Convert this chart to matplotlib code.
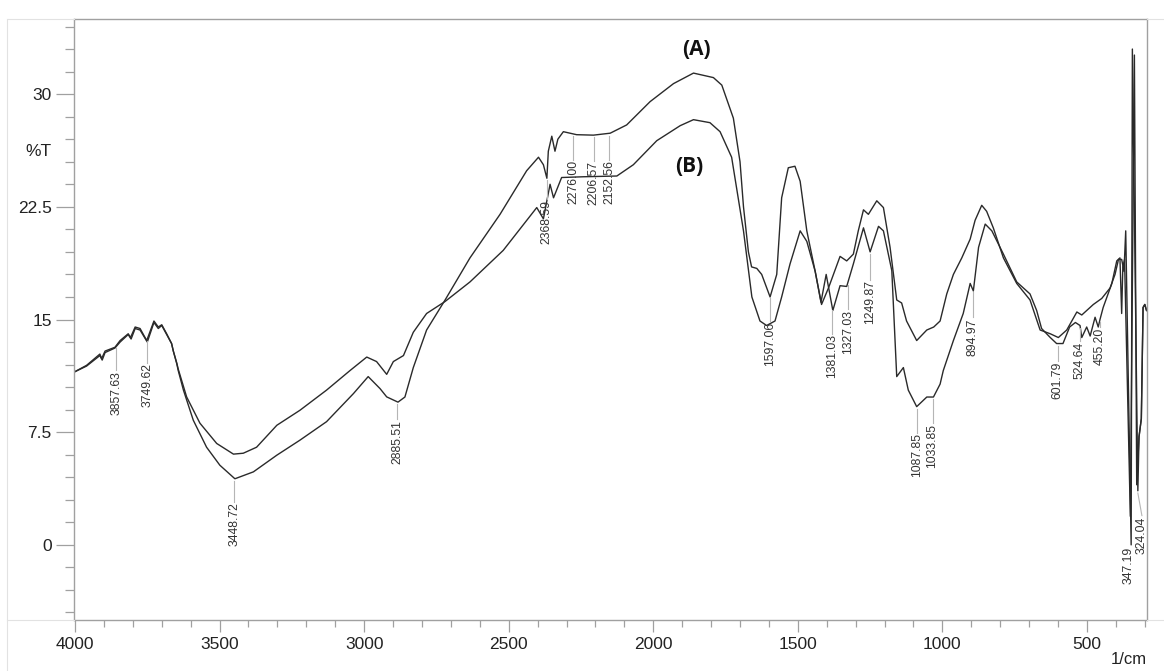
import matplotlib
matplotlib.use("Agg")
import numpy as np
import matplotlib.pyplot as plt
from matplotlib.lines import Line2D
from matplotlib.ticker import MultipleLocator, FuncFormatter

plt.rcParams['font.family'] = ['Liberation Sans', 'DejaVu Sans']

# spectrum (A)  - wavenumber in 1/cm, transmittance in %T
wn_a = [4003, 3960, 3914, 3908, 3896, 3862, 3844, 3816, 3808, 3792, 3775, 3752,
        3727, 3712, 3700, 3683, 3666, 3660, 3648, 3643, 3625, 3591, 3545, 3499,
        3447, 3383, 3302, 3222, 3130, 3037, 2986, 2945, 2922, 2883, 2859, 2830,
        2784, 2720, 2634, 2530, 2438, 2397, 2380, 2368, 2363, 2351, 2340, 2330,
        2311, 2265, 2207, 2149, 2092, 2011, 1930, 1861, 1792, 1763, 1723, 1700,
        1688, 1671, 1660, 1642, 1625, 1596, 1573, 1556, 1533, 1510, 1492, 1469,
        1440, 1418, 1394, 1354, 1331, 1308, 1291, 1273, 1256, 1227, 1204, 1181,
        1158, 1141, 1124, 1089, 1054, 1030, 1008, 985, 962, 933, 904, 887, 864,
        847, 824, 789, 743, 697, 662, 627, 599, 570, 535, 518, 478, 449, 420,
        403, 391, 380, 372, 366, 347.19, 343, 324.04, 320, 312, 306, 300, 294]
t_a = [11.5, 11.95, 12.7, 12.4, 12.9, 13.15, 13.6, 14.05, 13.8, 14.5, 14.4, 13.6,
       14.9, 14.5, 14.65, 14.05, 13.4, 12.9, 12.05, 11.6, 10.3, 8.3, 6.5, 5.3,
       4.4, 4.86, 5.97, 6.97, 8.2, 10.07, 11.2, 10.4, 9.85, 9.5, 9.84, 11.8,
       14.3, 16.3, 19.1, 22.0, 24.9, 25.8, 25.3, 24.4, 26.2, 27.2, 26.2, 27.0,
       27.5, 27.3, 27.27, 27.4, 27.95, 29.5, 30.7, 31.4, 31.1, 30.6, 28.4, 25.5,
       22.5, 19.5, 18.5, 18.4, 18.0, 16.5, 18.0, 23.1, 25.1, 25.2, 24.2, 20.9,
       18.2, 16.0, 17.1, 19.2, 18.9, 19.35, 20.9, 22.3, 22.0, 22.9, 22.45, 19.8,
       16.3, 16.1, 14.9, 13.6, 14.3, 14.5, 14.9, 16.7, 18.0, 19.1, 20.35, 21.6, 22.6,
       22.2, 21.1, 19.1, 17.4, 16.3, 14.3, 14.05, 13.8, 14.3, 15.5, 15.3, 16.0, 16.4, 17.1,
       18.0, 19.0, 19.0, 18.2, 20.9, 0.0, 33.0, 3.6, 7.2, 8.4, 15.8, 16.0, 15.6]

# spectrum (B)
wn_b = [4003, 3960, 3914, 3906, 3896, 3862, 3844, 3816, 3806, 3792, 3775, 3750,
        3727, 3712, 3700, 3683, 3666, 3660, 3648, 3643, 3614, 3568, 3510, 3452,
        3418, 3372, 3302, 3222, 3130, 3049, 2991, 2957, 2922, 2899, 2864, 2830,
        2784, 2720, 2634, 2519, 2403, 2380, 2357, 2345, 2317, 2242, 2126, 2069,
        1988, 1907, 1861, 1804, 1769, 1729, 1688, 1659, 1631, 1608, 1579, 1556,
        1527, 1492, 1469, 1440, 1420, 1402, 1379, 1354, 1331, 1308, 1273, 1250,
        1221, 1204, 1175, 1158, 1135, 1118, 1089, 1054, 1031, 1008, 997, 962, 928,
        904, 893, 875, 852, 829, 789, 743, 697, 674, 657, 627, 605, 583, 560, 540,
        524, 518, 501, 489, 472, 461, 455, 444, 414, 397, 386, 380, 376, 370, 350,
        336, 328, 320, 312, 306, 300, 294]
t_b = [11.5, 11.9, 12.6, 12.3, 12.8, 13.1, 13.5, 14.0, 13.7, 14.4, 14.3, 13.5,
       14.8, 14.4, 14.6, 14.0, 13.4, 12.9, 12.1, 11.7, 9.85, 8.1, 6.75, 6.04,
       6.1, 6.5, 7.96, 8.96, 10.3, 11.6, 12.5, 12.2, 11.35, 12.2, 12.6, 14.15,
       15.4, 16.2, 17.5, 19.6, 22.45, 21.7, 24.0, 23.1, 24.45, 24.5, 24.55, 25.3,
       26.9, 27.9, 28.3, 28.1, 27.5, 25.8, 20.9, 16.5, 14.9, 14.6, 14.9, 16.5,
       18.7, 20.9, 20.2, 18.2, 16.15, 18.0, 15.6, 17.25, 17.2, 18.7, 21.1, 19.5,
       21.2, 20.9, 18.25, 11.2, 11.8, 10.3, 9.2, 9.84, 9.84, 10.7, 11.6, 13.6, 15.4,
       17.4, 16.9, 19.8, 21.35, 20.9, 19.35, 17.5, 16.7, 15.6, 14.4, 13.8, 13.4, 13.4, 14.5, 14.8,
       14.6, 13.8, 14.5, 13.9, 15.15, 14.5, 15.0, 15.8, 17.4, 18.9, 19.1, 15.4, 18.5, 19.0, 1.9,
       32.6, 4.0, 7.2, 8.4, 15.8, 16.0, 15.6]

# picked peaks and the spectrum each pick sits on
peak_wn = [3857.63, 3749.62, 3448.72, 2885.51, 2368.59, 2276.00, 2206.57, 2152.56,
           1597.06, 1381.03, 1327.03, 1249.87, 1087.85, 1033.85, 894.97, 601.79,
           524.64, 455.20, 347.19, 324.04]
peak_on = ['A', 'A', 'A', 'A', 'A', 'A', 'A', 'A',
           'A', 'B', 'B', 'B', 'B', 'B', 'B', 'B',
           'B', 'B', 'A', 'A']

# lead line length below the curve, and sideways shift of the text
lead = [1.7, 1.65, 1.6, 1.2, 1.5, 1.75, 1.75, 1.8, 1.7, 1.8, 1.8, 1.9, 1.8, 1.8,
        1.9, 1.2, 1.1, 0.5, 0.15, 1.7]
shift = [0] * 18 + [8, -14]

fig = plt.figure(figsize=(11.64, 6.71), dpi=100)
W, H = 1164, 671
ax = fig.add_axes([74 / W, 1 - 620 / H, (1147 - 74) / W, (620 - 19) / H])

ax.plot(wn_a, t_a, color='#2a2a2a', lw=1.0)
ax.plot(wn_b, t_b, color='#2a2a2a', lw=1.0)

curves = {'A': (wn_a, t_a), 'B': (wn_b, t_b)}
for wn, on, ln, dx in zip(peak_wn, peak_on, lead, shift):
    xs, ys = curves[on]
    yc = np.interp(wn, xs[::-1], ys[::-1])
    ytxt = yc - ln
    if ln > 0.3:
        ax.plot([wn, wn + dx], [yc - 0.15, ytxt + 0.05], color='#b5b5b5', lw=0.8)
    ax.text(wn + dx, ytxt, f"{wn:.2f}", rotation=90, ha='center', va='top',
            fontsize=8.8, color='#333333')

ax.text(1852, 33.0, "(A)", family=['Open Sans', 'DejaVu Sans'], fontweight='bold',
        fontsize=15, ha='center', va='center', color='#111111')
ax.text(1876, 25.15, "(B)", family=['Open Sans', 'DejaVu Sans'], fontweight='bold',
        fontsize=15, ha='center', va='center', color='#111111')

ax.set_xlim(4003.5, 292.4)
ax.set_ylim(-5, 35)
ax.xaxis.set_major_locator(MultipleLocator(500))
ax.xaxis.set_minor_locator(MultipleLocator(100))
ax.yaxis.set_major_locator(MultipleLocator(7.5))
ax.yaxis.set_minor_locator(MultipleLocator(1.5))
ax.yaxis.set_major_formatter(FuncFormatter(lambda v, p: f"{v:g}"))
ax.xaxis.set_major_formatter(FuncFormatter(lambda v, p: f"{v:g}" if v >= 500 else ""))

for s in ax.spines.values():
    s.set_color('#a0a0a0')
    s.set_linewidth(1.0)
ax.tick_params(axis='y', which='major', length=13, width=0.9, color='#a0a0a0',
               labelsize=12.5, labelcolor='#222222', pad=3)
ax.tick_params(axis='y', which='minor', length=6.5, width=0.9, color='#a0a0a0')
ax.tick_params(axis='x', which='major', length=8.5, width=0.9, color='#a0a0a0',
               labelsize=12.5, labelcolor='#222222', pad=4)
ax.tick_params(axis='x', which='minor', length=5, width=0.9, color='#a0a0a0')

fig.text(52 / W, 1 - 152 / H, "%T", ha='right', va='center', fontsize=12.5, color='#222222')
fig.text(1147 / W, 1 - 660 / H, "1/cm", ha='right', va='center', fontsize=12, color='#222222')

# faint outer frame around the plot panel
frame = [([8 / W, 74 / W], [1 - 19 / H, 1 - 19 / H]),
         ([1147 / W, 1.0], [1 - 19 / H, 1 - 19 / H]),
         ([7 / W, 7 / W], [1 - 19 / H, 0.0]),
         ([7 / W, 74 / W], [1 - 620 / H, 1 - 620 / H]),
         ([1147 / W, 1.0], [1 - 620 / H, 1 - 620 / H])]
for fx, fy in frame:
    fig.add_artist(Line2D(fx, fy, transform=fig.transFigure, color='#e2e2e2', lw=0.8))

fig.savefig("out.png", dpi=100)
